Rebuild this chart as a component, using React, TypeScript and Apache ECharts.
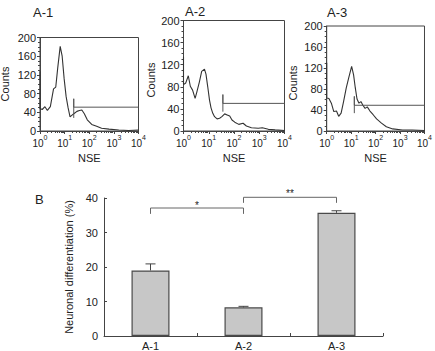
import React, { useEffect, useRef } from 'react';
import * as echarts from 'echarts';

// Flow cytometry panels: x = log10(NSE intensity), y = event counts
const panelTitles = ['A-1', 'A-2', 'A-3'];

const histA1: [number, number][] = [
  [0, 128], [0, 48], [0.09, 46], [0.2, 52], [0.3, 44], [0.42, 52], [0.55, 90], [0.64, 94],
  [0.72, 135], [0.82, 181], [0.9, 160], [0.98, 112], [1.06, 74], [1.14, 50], [1.22, 30],
  [1.3, 34], [1.4, 38], [1.5, 42], [1.6, 44], [1.7, 45], [1.8, 37], [1.92, 24], [2.1, 14],
  [2.3, 10], [2.5, 6], [2.8, 4], [3.2, 2], [3.6, 1], [4, 2]
];
const histA2: [number, number][] = [
  [0, 135], [0, 84], [0.09, 87], [0.19, 100], [0.27, 81], [0.36, 74], [0.46, 59], [0.53, 71],
  [0.63, 89], [0.72, 108], [0.83, 112], [0.89, 103], [0.96, 80], [1.03, 56], [1.09, 42],
  [1.16, 32], [1.23, 26], [1.33, 22], [1.43, 23], [1.52, 26], [1.63, 31], [1.73, 29],
  [1.83, 27], [1.92, 20], [2.03, 16], [2.19, 12], [2.36, 14], [2.49, 9], [2.69, 6],
  [2.96, 5], [3.12, 6], [3.36, 3], [3.63, 2], [4, 1]
];
const histA3: [number, number][] = [
  [0, 130], [0, 63], [0.09, 62], [0.19, 53], [0.29, 37], [0.4, 38], [0.49, 28], [0.59, 34],
  [0.69, 56], [0.8, 82], [0.9, 101], [1.02, 123], [1.1, 107], [1.17, 82], [1.24, 61],
  [1.32, 53], [1.4, 56], [1.48, 49], [1.57, 43], [1.66, 46], [1.77, 38], [1.9, 31],
  [2.04, 23], [2.24, 15], [2.44, 8], [2.7, 4], [3.1, 2], [3.5, 2], [4, 1]
];
const histograms = [histA1, histA2, histA3];

// NSE-positive gate per panel: [log10 position, marker low, marker high, gate level]
const gates: [number, number, number, number][] = [
  [1.37, 28, 69, 51],
  [1.56, 35, 66, 50],
  [1.13, 34, 66, 49]
];

const countMax = 200;
const countStep = 40;
const decades = [0, 1, 2, 3, 4];
const countsTitle = 'Counts';

// Panel B: neuronal differentiation (%) with SD
const categories = ['A-1', 'A-2', 'A-3'];
const differentiation = [19.0, 8.3, 35.7];
const differentiationSd = [1.9, 0.3, 0.6];

// Significance brackets: [from category, to category, bracket level, leg end, star level]
const brackets: [number, number, number, number, number][] = [
  [0, 1, 37.1, 35.4, 37.9],
  [1, 2, 40.2, 38.6, 41.3]
];
const significance = ['*', '**'];

const FONT = '"Liberation Sans", Arial, Helvetica, sans-serif';
const INK = '#222';
const AXIS = '#444';

// Histogram plot rectangles [left, top, width, height]
const histGrids = [
  [40, 37.5, 98.5, 93.5],
  [183.5, 20.5, 101, 110.5],
  [326.7, 26, 100, 105]
];
// Centres of the rotated "Counts" titles
const countsTitlePos = [
  [5, 84],
  [151, 80],
  [292.5, 83]
];

// log-spaced minor ticks between decades
const minorTickValues: number[] = [];
for (let d = 0; d < 4; d++) {
  for (let k = 2; k <= 9; k++) minorTickValues.push(d + Math.log10(k));
}

export default function App() {
  const ref = useRef<HTMLDivElement>(null);

  useEffect(() => {
    document.body.style.margin = '0';
    if (!ref.current) return;
    const chart = echarts.init(ref.current, undefined, { renderer: 'svg' });

    const grid: any[] = histGrids.map(([left, top, width, height]) => ({
      left, top, width, height, show: true, borderColor: AXIS, borderWidth: 1,
      backgroundColor: 'transparent', containLabel: false
    }));
    grid.push({ left: 104, top: 198, width: 279, height: 140, containLabel: false });

    const xAxis: any[] = [];
    const yAxis: any[] = [];
    histGrids.forEach((_, i) => {
      xAxis.push({
        gridIndex: i, type: 'value', min: decades[0], max: decades[decades.length - 1], interval: 1,
        axisLine: { show: true, onZero: false, lineStyle: { color: AXIS, width: 1 } },
        axisTick: { show: true, length: 3, lineStyle: { color: AXIS } },
        splitLine: { show: false },
        axisLabel: {
          margin: 3,
          formatter: (v: number) => `{b|10}{s|${v}}`,
          rich: {
            b: { fontSize: 10, fontFamily: FONT, color: INK, lineHeight: 14, verticalAlign: 'bottom' },
            s: { fontSize: 7, fontFamily: FONT, color: INK, lineHeight: 14, verticalAlign: 'top' }
          }
        },
        name: 'NSE', nameLocation: 'middle', nameGap: 21,
        nameTextStyle: { fontSize: 11, fontFamily: FONT, color: INK }
      });
      xAxis.push({
        gridIndex: i, type: 'value', min: 0, max: 4, position: 'bottom',
        axisLine: { show: false, onZero: false },
        axisLabel: { show: false },
        splitLine: { show: false },
        axisTick: { show: true, length: 2, customValues: minorTickValues, lineStyle: { color: AXIS } }
      });
      yAxis.push({
        gridIndex: i, type: 'value', min: 0, max: countMax, interval: countStep,
        axisLine: { show: true, lineStyle: { color: AXIS, width: 1 } },
        axisTick: { show: true, length: 3, lineStyle: { color: AXIS } },
        minorTick: { show: true, splitNumber: 4, length: 2, lineStyle: { color: AXIS } },
        splitLine: { show: false },
        minorSplitLine: { show: false },
        axisLabel: { fontSize: 11, fontFamily: FONT, color: INK, margin: 4 }
      });
    });

    xAxis.push({
      gridIndex: 3, type: 'category', data: categories,
      axisLine: { show: true, lineStyle: { color: AXIS, width: 1 } },
      axisTick: { show: true, inside: true, length: 3, lineStyle: { color: AXIS } },
      axisLabel: { fontSize: 11, fontFamily: FONT, color: INK, margin: 4 }
    });
    yAxis.push({
      gridIndex: 3, type: 'value', min: 0, max: 40, interval: 10,
      axisLine: { show: true, lineStyle: { color: AXIS, width: 1 } },
      axisTick: { show: true, inside: true, length: 3, lineStyle: { color: AXIS } },
      splitLine: { show: false },
      axisLabel: { fontSize: 11, fontFamily: FONT, color: INK, margin: 6 },
      name: 'Neuronal differentiation (%)', nameLocation: 'middle', nameGap: 17,
      nameTextStyle: { fontSize: 11, fontFamily: FONT, color: INK }
    });

    const series: any[] = [];
    histograms.forEach((data, i) => {
      series.push({
        type: 'line', xAxisIndex: i * 2, yAxisIndex: i, data,
        showSymbol: false, lineStyle: { color: '#333', width: 1.1 }, silent: true
      });
      const [g, lo, hi, level] = gates[i];
      series.push({
        type: 'line', xAxisIndex: i * 2, yAxisIndex: i,
        data: [[g, lo], [g, hi], [g, level], [decades[decades.length - 1], level]],
        showSymbol: false, lineStyle: { color: '#555', width: 1 }, silent: true
      });
    });

    series.push({
      type: 'bar', xAxisIndex: 6, yAxisIndex: 3, data: differentiation, barWidth: 38,
      itemStyle: { color: '#c7c7c7', borderColor: '#4a4a4a', borderWidth: 1.2 }, silent: true
    });

    series.push({
      type: 'custom', xAxisIndex: 6, yAxisIndex: 3,
      data: categories.map((_, k) => [k, differentiation[k], differentiationSd[k]]),
      renderItem: (_p: any, api: any) => {
        const k = api.value(0);
        const v = api.value(1);
        const e = api.value(2);
        const base = api.coord([k, v]);
        const top = api.coord([k, v + e]);
        const style = { stroke: '#444', lineWidth: 1 };
        return {
          type: 'group',
          children: [
            { type: 'line', shape: { x1: base[0], y1: base[1], x2: top[0], y2: top[1] }, style },
            { type: 'line', shape: { x1: top[0] - 5, y1: top[1], x2: top[0] + 5, y2: top[1] }, style }
          ]
        };
      },
      silent: true, z: 3
    });

    series.push({
      type: 'custom', xAxisIndex: 6, yAxisIndex: 3, clip: false,
      data: brackets.map((b, idx) => [...b, idx]),
      renderItem: (_p: any, api: any) => {
        const a = api.value(0);
        const b = api.value(1);
        const level = api.value(2);
        const leg = api.value(3);
        const starLevel = api.value(4);
        const idx = api.value(5);
        const p1 = api.coord([a, leg]);
        const p2 = api.coord([a, level]);
        const p3 = api.coord([b, level]);
        const p4 = api.coord([b, leg]);
        const sy = api.coord([a, starLevel])[1];
        return {
          type: 'group',
          children: [
            {
              type: 'polyline',
              shape: { points: [p1, p2, p3, p4] },
              style: { stroke: '#666', lineWidth: 1, fill: 'none' }
            },
            {
              type: 'text', x: (p2[0] + p3[0]) / 2, y: sy,
              style: {
                text: significance[idx], fill: INK, fontSize: 10, fontFamily: FONT,
                align: 'center', verticalAlign: 'middle',
                textAlign: 'center', textVerticalAlign: 'middle'
              }
            }
          ]
        };
      },
      silent: true
    });

    const titleStyle = { fontSize: 13, fontWeight: 'normal', color: INK, fontFamily: FONT };
    chart.setOption({
      animation: false,
      backgroundColor: '#fff',
      title: [
        { text: panelTitles[0], left: 33, top: 6, padding: 0, textStyle: titleStyle },
        { text: panelTitles[1], left: 185, top: 5, padding: 0, textStyle: titleStyle },
        { text: panelTitles[2], left: 327, top: 6, padding: 0, textStyle: titleStyle },
        { text: 'B', left: 35, top: 193, padding: 0, textStyle: titleStyle }
      ],
      graphic: countsTitlePos.map(([x, y]) => ({
        type: 'text', x, y, rotation: Math.PI / 2, silent: true,
        style: {
          text: countsTitle, fill: INK, fontSize: 11, fontFamily: FONT,
          align: 'center', verticalAlign: 'middle',
          textAlign: 'center', textVerticalAlign: 'middle'
        }
      })),
      grid, xAxis, yAxis, series
    });

    return () => chart.dispose();
  }, []);

  return <div ref={ref} style={{ width: 435, height: 351 }} />;
}
